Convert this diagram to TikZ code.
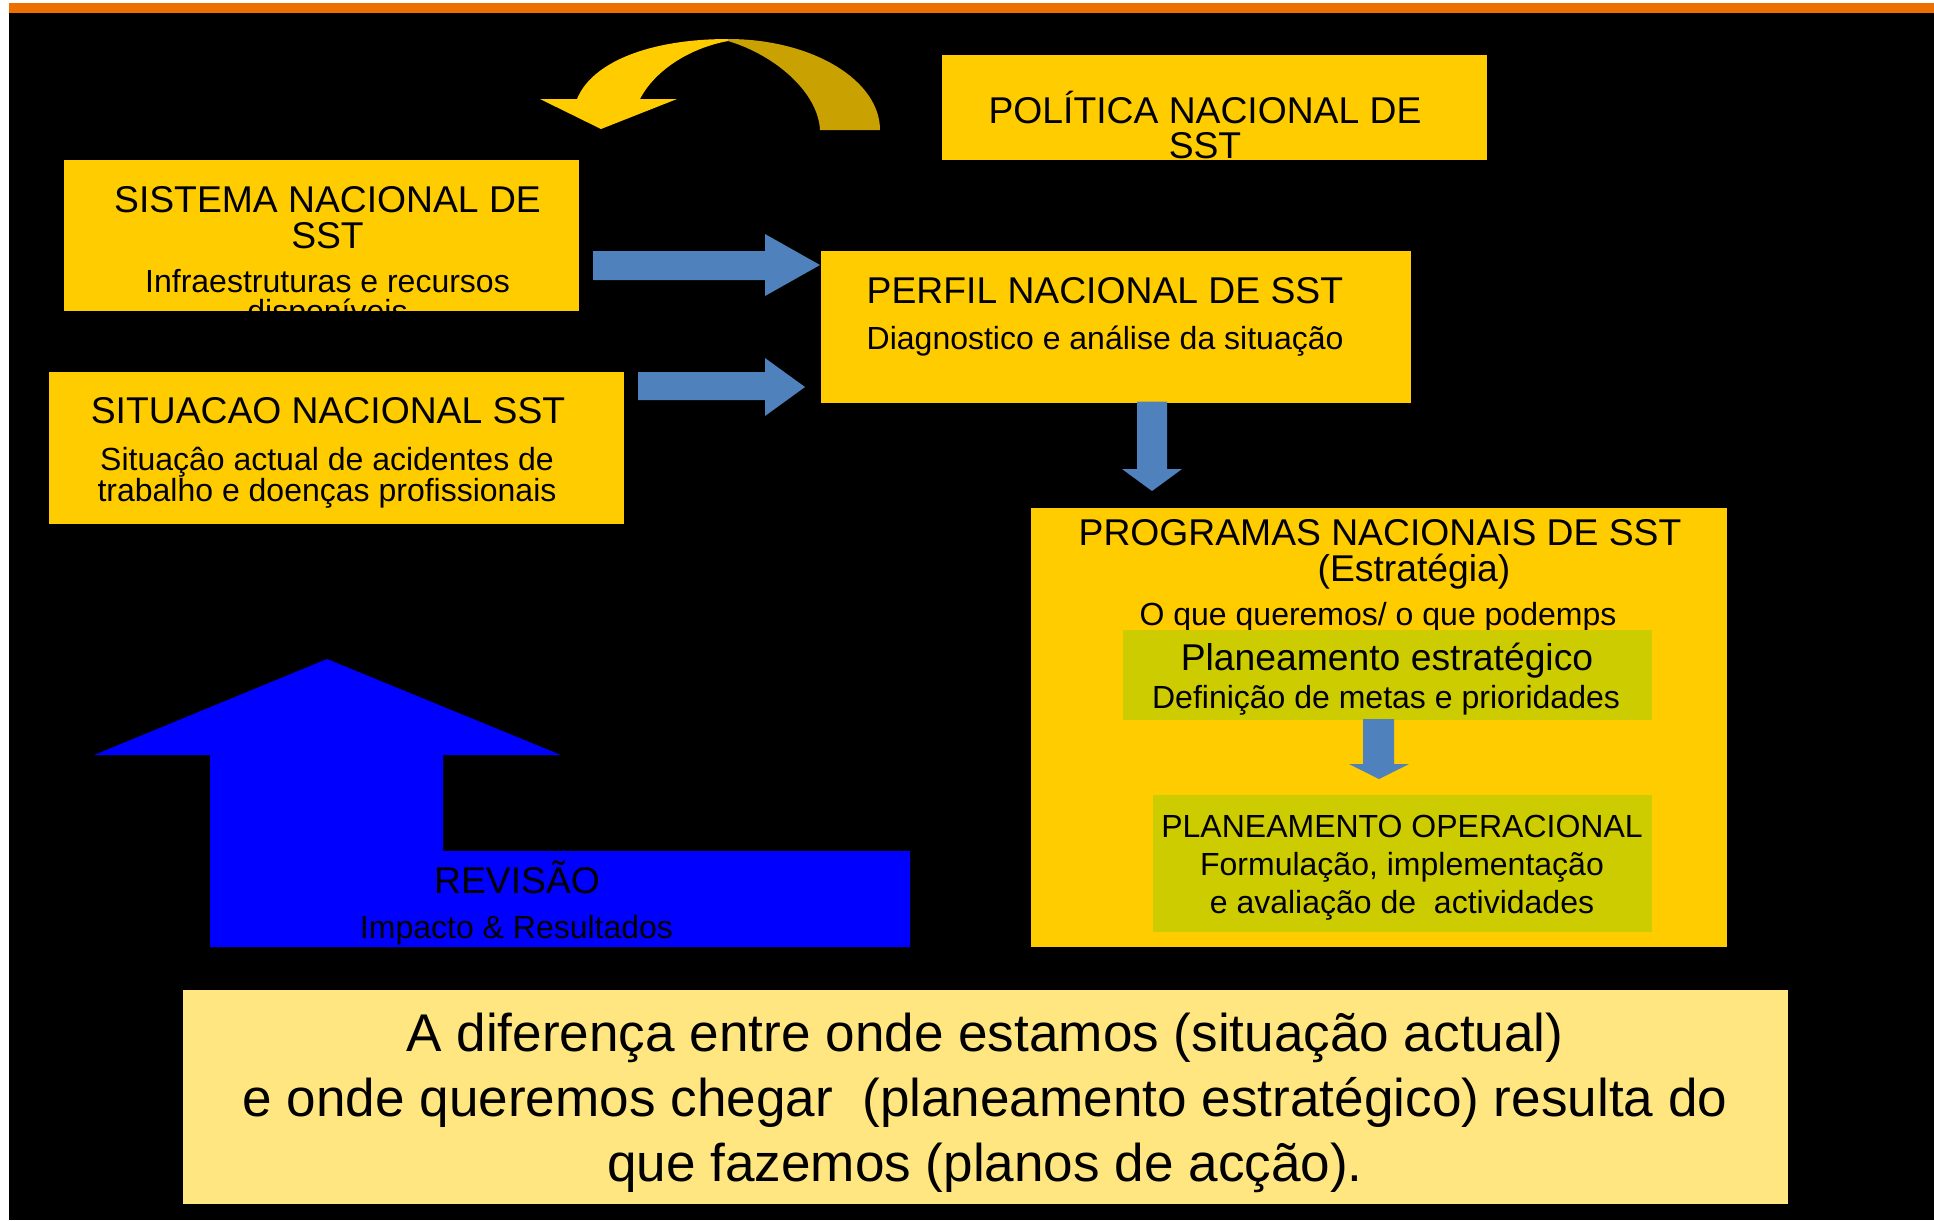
\documentclass[tikz,border=0pt]{standalone}
\usepackage{fontspec}
\setmainfont{Liberation Sans}
\usetikzlibrary{positioning}
\definecolor{sstyellow}{HTML}{FFCC00}
\definecolor{sstolive}{HTML}{CCCC00}
\definecolor{sstgold}{HTML}{C9A100}
\definecolor{arrowblue}{HTML}{4F81BD}
\definecolor{revblue}{HTML}{0000FF}
\definecolor{notefill}{HTML}{FFE681}
\definecolor{topband}{HTML}{EC6F00}
\begin{document}
\begin{tikzpicture}[x=0.01cm,y=-0.01cm,
  ybox/.style={rectangle,fill=sstyellow,inner sep=0pt,anchor=north west},
  obox/.style={rectangle,fill=sstolive,inner sep=0pt,anchor=north west},
  title/.style={font=\fontsize{10.6}{10}\selectfont,align=center,anchor=base,inner sep=0pt},
  sub/.style={font=\fontsize{9.1}{10.9}\selectfont,align=center,anchor=base,inner sep=0pt}]

  % background
  \useasboundingbox (0,0) rectangle (1934,1220);
  \fill[white] (0,0) rectangle (1934,1220);
  \fill[black] (9,13) rectangle (1934,1220);
  \fill[topband] (9,3) rectangle (1934,13);

  % curved arrow
  \fill[sstgold] (880,130) .. controls (880,80) and (812,39) .. (728,39) -- (728,41)
    .. controls (775,55) and (818,92) .. (820,130) -- cycle;
  \fill[sstyellow] (728,39) .. controls (650,39) and (592,62) .. (577,99) -- (540,99)
    -- (601,129) -- (677,99) -- (640,99) .. controls (655,70) and (690,48) .. (728,41) -- cycle;

  % boxes
  \node[ybox,minimum width=5.45cm,minimum height=1.05cm] (politica) at (941,54) {};
  \node[ybox,minimum width=5.145cm,minimum height=1.515cm] (sistema) at (63,159) {};
  \node[ybox,minimum width=5.746cm,minimum height=1.517cm] (situacao) at (48,371) {};
  \node[ybox,minimum width=5.90cm,minimum height=1.517cm] (perfil) at (820,250) {};
  \node[ybox,minimum width=6.96cm,minimum height=4.39cm] (programas) at (1030,507) {};
  \node[rectangle,fill=notefill,inner sep=0pt,anchor=north west,
    minimum width=16.045cm,minimum height=2.137cm] (nota) at (182,989) {};

  % texts (multi-line nodes sit on their last line)
  \node[title] (politicaT) at (1205,158.3) {POLÍTICA NACIONAL DE\\SST};
  \node[title] (sistemaT) at (327.5,248) {SISTEMA NACIONAL DE\\SST};
  \node[sub,font=\fontsize{9.1}{8.4}\selectfont] (sistemaS) at (327.5,322.2) {Infraestruturas e recursos\\disponíveis};
  \node[title] (situacaoT) at (328,423.3) {SITUACAO NACIONAL SST};
  \node[sub,font=\fontsize{9.1}{8.8}\selectfont] (situacaoS) at (327,501) {Situaçâo actual de acidentes de\\trabalho e doenças profissionais};
  \node[title,anchor=base west] (perfilT) at (866,303) {PERFIL NACIONAL DE SST};
  \node[sub,anchor=base west] (perfilS) at (866,349) {Diagnostico e análise da situação};
  \node[title] (programasT) at (1380,581) {PROGRAMAS NACIONAIS DE SST\\\hspace*{0.68cm}(Estratégia)};
  \node[sub] (programasS) at (1378,625) {O que queremos/ o que podemps};

  % inner boxes
  \node[obox,minimum width=5.29cm,minimum height=0.90cm] (planest) at (1122,629) {};
  \node[title] (planestT) at (1387,670) {Planeamento estratégico};
  \node[sub] (planestS) at (1386,708) {Definição de metas e prioridades};
  \node[obox,minimum width=4.99cm,minimum height=1.37cm] (planop) at (1152,794) {};
  \node[sub] (planopT) at (1402,837) {PLANEAMENTO OPERACIONAL};
  \node[sub,font=\fontsize{9.1}{10.6}\selectfont] (planopS) at (1402,913) {Formulação, implementação\\e avaliação de\ \ actividades};

  % block arrows
  \fill[arrowblue] (593,251) -- (765,251) -- (765,234) -- (perfil.west |- 0,265)
    -- (765,296) -- (765,280) -- (593,280) -- cycle;
  \fill[arrowblue] (638,372) -- (765,372) -- (765,358) -- (805,387)
    -- (765,416) -- (765,400) -- (638,400) -- cycle;
  \fill[arrowblue] (1137,401.7) -- (1167,401.7) -- (1167,469) -- (1182,469)
    -- (1152,491) -- (1122,469) -- (1137,469) -- cycle;
  \fill[arrowblue] (1363,719) -- (1394,719) -- (1394,764) -- (1409,764)
    -- (1379,779) -- (1349,764) -- (1363,764) -- cycle;

  % revision
  \fill[revblue] (327,659) -- (561,755) -- (443,755) -- (443,851) -- (910,851)
    -- (910,947) -- (210,947) -- (210,755) -- (94,755) -- cycle;
  \node[title] (revisao) at (517,893) {REVISÃO};
  \node[sub] (impacto) at (516.5,938) {Impacto \& Resultados};

  \node[title,font=\fontsize{15.1}{18.4}\selectfont] (notaT) at (985,1181)
    {A diferença entre onde estamos (situação actual)\\e onde queremos chegar\ \ (planeamento estratégico) resulta do\\que fazemos (planos de acção).};

\end{tikzpicture}
\end{document}
